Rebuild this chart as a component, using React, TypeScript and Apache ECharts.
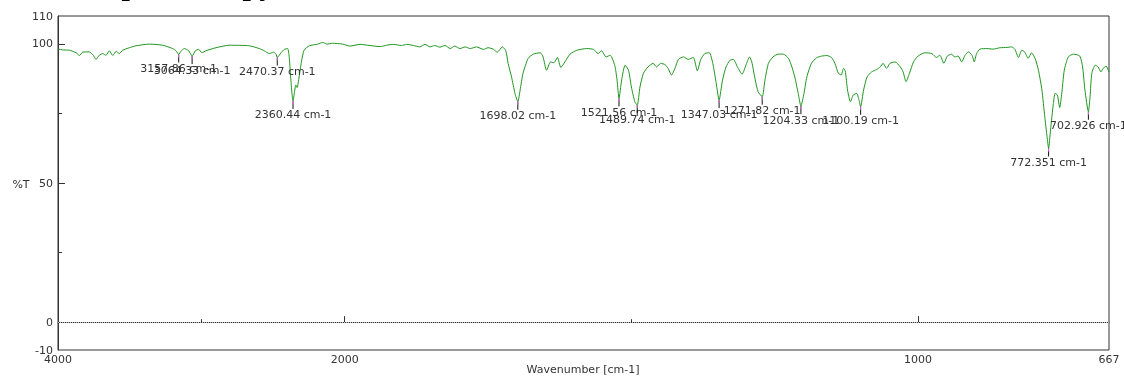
import React, { useEffect, useRef } from "react";
import * as echarts from "echarts";

// Spectrum (wavenumber in cm-1, transmittance in %T)
const wavenumbers = [
  4000, 3960, 3921, 3874, 3850, 3828, 3782, 3754, 3735, 3712, 3688, 3665, 3642, 3618, 3595, 3572, 3549, 3502, 3456, 3363,
  3270, 3200, 3177, 3157.86, 3140, 3119, 3088, 3064.33, 3042, 3019, 2996, 2968, 2898, 2805, 2665, 2596, 2561, 2526, 2498, 2479,
  2470.37, 2444, 2421, 2398, 2387, 2377, 2368, 2360.44, 2350, 2341, 2332, 2318, 2302, 2283, 2247, 2188, 2153, 2125, 2084, 2014,
  1991, 1973, 1956, 1938, 1927, 1915, 1901, 1892, 1880, 1869, 1860, 1851, 1843, 1834, 1825, 1816, 1808, 1799, 1790, 1781,
  1770, 1758, 1750, 1741, 1734, 1725, 1719, 1715, 1709, 1703, 1698.02, 1694, 1689, 1680, 1671, 1659, 1654, 1648, 1641, 1635,
  1629, 1623, 1616, 1607, 1595, 1578, 1566, 1558, 1552, 1544, 1537, 1529, 1525, 1521.56, 1517, 1511, 1505, 1500, 1494, 1489.74,
  1485, 1479, 1471, 1462, 1456, 1449, 1441, 1436, 1430, 1424, 1418, 1409, 1401, 1392, 1385, 1379, 1372, 1364, 1358, 1352,
  1347.03, 1341, 1335, 1328, 1322, 1315, 1307, 1299, 1294, 1290, 1284, 1279, 1271.82, 1267, 1261, 1253, 1244, 1235, 1226, 1220,
  1215, 1209, 1204.33, 1199, 1194, 1186, 1177, 1168, 1159, 1151, 1145, 1139, 1134, 1130, 1127, 1123, 1118, 1113, 1107, 1103,
  1100.19, 1095, 1089, 1081, 1072, 1066, 1061, 1055, 1049, 1040, 1031, 1026, 1021, 1015, 1008, 1000, 988, 976, 968, 962,
  955, 949, 942, 936, 930, 924, 918, 912, 906, 902, 898, 892, 880, 869, 857, 845, 837, 831, 825, 819,
  814, 808, 802, 796, 790, 784, 779, 775, 772.351, 769, 764, 761, 757, 753, 750, 745, 738, 729, 718, 713,
  709, 702.926, 700, 697, 691, 686, 681, 677, 672, 667,
];
const transmittance = [
  98.1, 97.8, 97.7, 96.8, 95.8, 97.0, 97.1, 95.9, 94.4, 95.9, 96.5, 95.9, 97.5, 95.8, 97.3, 96.5, 97.7, 98.6, 99.3, 99.9,
  99.5, 98.3, 97.5, 96.2, 97.5, 98.3, 97.5, 95.6, 97.5, 98.0, 96.8, 97.5, 98.6, 99.5, 99.3, 98.3, 97.5, 96.5, 97.0, 96.3,
  95.1, 96.8, 98.0, 98.3, 95.3, 88.1, 82.2, 79.5, 82.8, 85.2, 84.3, 88.1, 93.5, 97.7, 99.3, 99.9, 100.5, 99.9, 100.2, 99.9,
  99.2, 99.8, 99.4, 99.0, 99.5, 99.8, 99.4, 99.8, 99.4, 98.9, 99.8, 98.9, 99.4, 98.8, 99.4, 98.3, 99.2, 98.3, 98.9, 98.3,
  98.9, 98.0, 98.6, 98.1, 97.0, 98.9, 97.5, 93.0, 88.1, 82.2, 79.2, 83.4, 89.4, 94.8, 96.3, 96.8, 95.3, 90.5, 93.5, 93.2,
  95.1, 91.5, 93.5, 96.3, 97.7, 98.3, 98.0, 96.5, 97.5, 95.3, 95.9, 92.3, 87.0, 80.4, 87.0, 92.3, 90.5, 84.5, 79.2, 78.0,
  84.5, 89.4, 91.7, 93.0, 91.7, 93.0, 92.5, 91.2, 88.8, 91.2, 94.4, 95.3, 94.4, 95.1, 90.3, 94.4, 96.5, 96.8, 93.0, 85.8,
  79.8, 87.0, 91.7, 94.1, 94.4, 91.7, 89.1, 93.0, 95.3, 93.5, 87.0, 82.8, 81.0, 87.0, 93.0, 95.3, 96.3, 96.3, 94.8, 91.7,
  88.1, 82.2, 77.6, 82.2, 88.1, 93.0, 95.0, 95.6, 95.8, 95.1, 93.0, 89.4, 88.8, 91.2, 90.3, 83.4, 79.2, 81.6, 82.2, 79.8,
  77.4, 83.4, 88.1, 89.9, 90.8, 91.7, 93.0, 91.2, 93.0, 93.5, 91.7, 89.9, 86.4, 89.4, 93.5, 95.6, 96.8, 96.5, 95.1, 95.9,
  93.0, 95.6, 96.3, 95.3, 95.6, 93.5, 95.9, 97.1, 95.9, 93.5, 96.5, 98.1, 98.3, 98.1, 98.6, 98.7, 98.9, 98.0, 95.1, 97.7,
  97.1, 94.8, 96.8, 94.8, 90.5, 83.4, 73.8, 66.6, 62.4, 69.0, 78.6, 82.2, 81.6, 77.1, 81.0, 90.5, 95.3, 96.3, 95.6, 91.7,
  83.4, 75.6, 81.0, 89.4, 92.3, 91.7, 89.9, 91.2, 92.0, 89.9,
];

// Picked peaks
const peakWavenumbers = [3157.86, 3064.33, 2470.37, 2360.44, 1698.02, 1521.56, 1489.74, 1347.03, 1271.82, 1204.33, 1100.19, 772.351, 702.926];
const peakTransmittance = [96.2, 95.6, 95.1, 79.5, 79.2, 80.4, 78.0, 79.8, 81.0, 77.6, 77.4, 62.4, 75.6];

// Axis labels / ticks
const xLabelWavenumbers = [4000, 2000, 1000, 667];
const xMajorTickWavenumbers = [2000, 1000];
const xMinorTickWavenumbers = [3000, 1500];
const yLabelValues = [-10, 0, 50, 100, 110];
const yMajorTickValues = [0, 50, 100];
const yMinorTickValues = [25, 75];

const titleText = "IR spectroscopy";
const xAxisTitle = "Wavenumber [cm-1]";
const yAxisTitle = "%T";

// Piecewise wavenumber scale: 4000–2000 is compressed 4x relative to 2000–667
const toAxis = (w: number) => (w <= 2000 ? w : 2000 + (w - 2000) / 4);
const fromAxis = (p: number) => (p <= 2000 ? p : 2000 + (p - 2000) * 4);

const FONT = '"DejaVu Sans", Verdana, sans-serif';
const TEXT = "#333";

export default function App() {
  const ref = useRef<HTMLDivElement>(null);
  useEffect(() => {
    if (!ref.current) return;
    const chart = echarts.init(ref.current, undefined, { renderer: "svg" });
    const xMin = 667;
    const xMax = toAxis(4000);
    const option: any = {
      animation: false,
      grid: {
        left: 58, right: 15, top: 16, bottom: 26,
        containLabel: false, outerBoundsMode: "none",
        show: true, borderColor: "#333", borderWidth: 1, backgroundColor: "transparent",
      },
      graphic: [
        {
          type: "text", x: 69, y: -30.5, silent: true,
          style: { text: titleText, font: 'bold 30px "Liberation Serif", "Times New Roman", serif', fill: "#000", verticalAlign: "top" },
        },
        {
          type: "text", x: 21, y: 184, silent: true,
          style: { text: yAxisTitle, font: `11px ${FONT}`, fill: TEXT, align: "center", verticalAlign: "middle" },
        },
        {
          type: "text", x: 583, y: 369, silent: true,
          style: { text: xAxisTitle, font: `11px ${FONT}`, fill: TEXT, align: "center", verticalAlign: "middle" },
        },
      ],
      xAxis: [
        {
          type: "value", min: xMin, max: xMax, inverse: true,
          axisLine: { show: true, lineStyle: { color: "#333", width: 1 } },
          axisTick: { show: true, inside: true, length: 6, customValues: xMajorTickWavenumbers.map(toAxis), lineStyle: { color: "#333" } },
          axisLabel: {
            show: true, margin: 4, fontFamily: FONT, fontSize: 11, color: TEXT,
            customValues: xLabelWavenumbers.map(toAxis),
            formatter: (v: number) => String(Math.round(fromAxis(v))),
          },
          splitLine: { show: false },
        },
        {
          type: "value", min: xMin, max: xMax, inverse: true, position: "bottom",
          axisLine: { show: false },
          axisTick: { show: true, inside: true, length: 3, customValues: xMinorTickWavenumbers.map(toAxis), lineStyle: { color: "#333" } },
          axisLabel: { show: false },
          splitLine: { show: false },
        },
      ],
      yAxis: [
        {
          type: "value", min: -10, max: 110,
          axisLine: { show: true, lineStyle: { color: "#333", width: 1 } },
          axisTick: { show: true, inside: true, length: 7, customValues: yMajorTickValues, lineStyle: { color: "#333" } },
          axisLabel: { show: true, margin: 5, fontFamily: FONT, fontSize: 11, color: TEXT, customValues: yLabelValues },
          splitLine: { show: false },
        },
        {
          type: "value", min: -10, max: 110, position: "left",
          axisLine: { show: false },
          axisTick: { show: true, inside: true, length: 4, customValues: yMinorTickValues, lineStyle: { color: "#333" } },
          axisLabel: { show: false },
          splitLine: { show: false },
        },
      ],
      series: [
        {
          type: "line",
          data: wavenumbers.map((w, i) => [toAxis(w), transmittance[i]]),
          showSymbol: false, symbol: "none", smooth: 0.2,
          lineStyle: { color: "#1e961e", width: 1 },
          z: 3,
          markLine: {
            silent: true, symbol: "none", label: { show: false },
            lineStyle: { type: "dotted", color: "#bbb", width: 1 },
            data: [{ yAxis: 0 }],
          },
        },
        {
          type: "custom",
          coordinateSystem: "cartesian2d",
          clip: false,
          z: 5,
          encode: { x: 0, y: 1 },
          data: peakWavenumbers.map((w, i) => [toAxis(w), peakTransmittance[i]]),
          renderItem: (params: any, api: any) => {
            const pt = api.coord([api.value(0), api.value(1)]);
            const label = String(peakWavenumbers[params.dataIndex]) + " cm-1";
            return {
              type: "group",
              children: [
                { type: "line", shape: { x1: pt[0], y1: pt[1], x2: pt[0], y2: pt[1] + 8 }, style: { stroke: "#111", lineWidth: 1 } },
                { type: "rect", shape: { x: pt[0] - 0.5, y: pt[1], width: 1, height: 3 }, style: { fill: "#e070e0" } },
                {
                  type: "text",
                  style: { text: label, x: pt[0], y: pt[1] + 14, align: "center", verticalAlign: "middle", font: `11px ${FONT}`, fill: TEXT },
                },
              ],
            };
          },
        },
      ],
    };
    chart.setOption(option);
    return () => chart.dispose();
  }, []);
  return <div ref={ref} style={{ position: "fixed", left: 0, top: 0, width: 1124, height: 376 }} />;
}
